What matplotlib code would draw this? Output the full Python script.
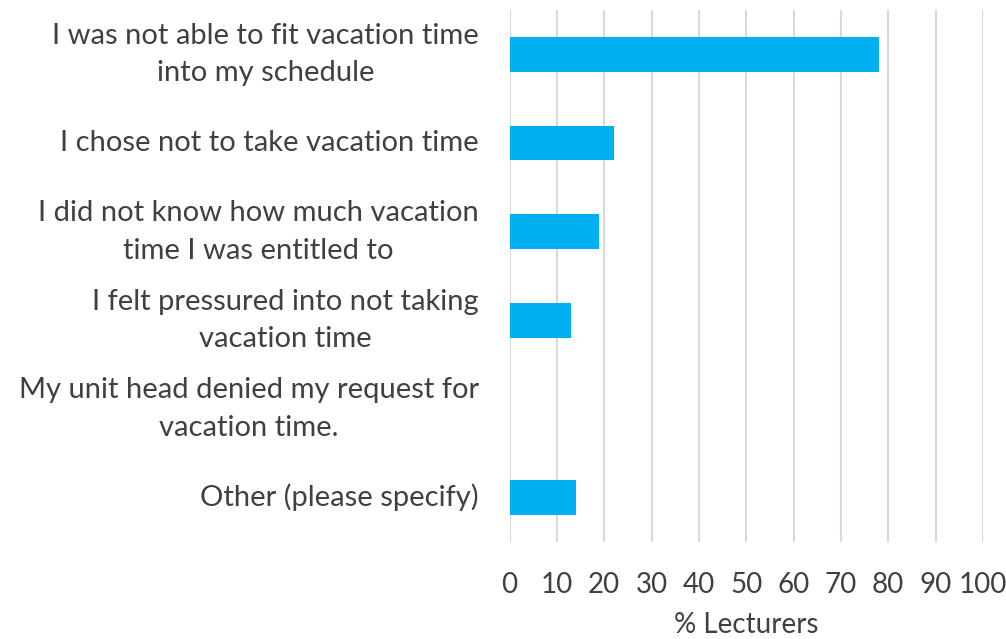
import matplotlib.pyplot as plt

plt.rcParams['font.family'] = ['Lato', 'DejaVu Sans']

# 数据
reasons = [
    'I was not able to fit vacation time\ninto my schedule',
    'I chose not to take vacation time',
    'I did not know how much vacation\ntime I was entitled to',
    'I felt pressured into not taking\nvacation time',
    'My unit head denied my request for\nvacation time.',
    'Other (please specify)',
]
pct_lecturers = [78, 22, 19, 13, 0, 14]
x_ticks = list(range(0, 101, 10))

text_color = '#404040'

fig = plt.figure(figsize=(10.06, 6.39), dpi=100)
ax = fig.add_axes([0.5065, 0.152, 0.4705, 0.832])

y_pos = list(range(len(reasons)))
ax.barh(y_pos, pct_lecturers, height=0.39, color='#00B0F0', zorder=3)

ax.set_xlim(0, 100)
ax.set_ylim(len(reasons) - 0.5, -0.5)
ax.set_xticks(x_ticks)
ax.set_yticks(y_pos)
ax.set_yticklabels(reasons, multialignment='center', linespacing=1.55, va='center')

ax.grid(axis='x', color='#d9d9d9', linewidth=1.5, zorder=0)
for s in ax.spines.values():
    s.set_visible(False)
ax.tick_params(axis='y', length=0, labelsize=21, labelcolor=text_color, pad=22)
ax.tick_params(axis='x', length=0, labelsize=20, labelcolor=text_color, pad=22)
ax.set_xlabel('% Lecturers', fontsize=20, color=text_color, labelpad=10)

plt.savefig('out.png', dpi=100)
